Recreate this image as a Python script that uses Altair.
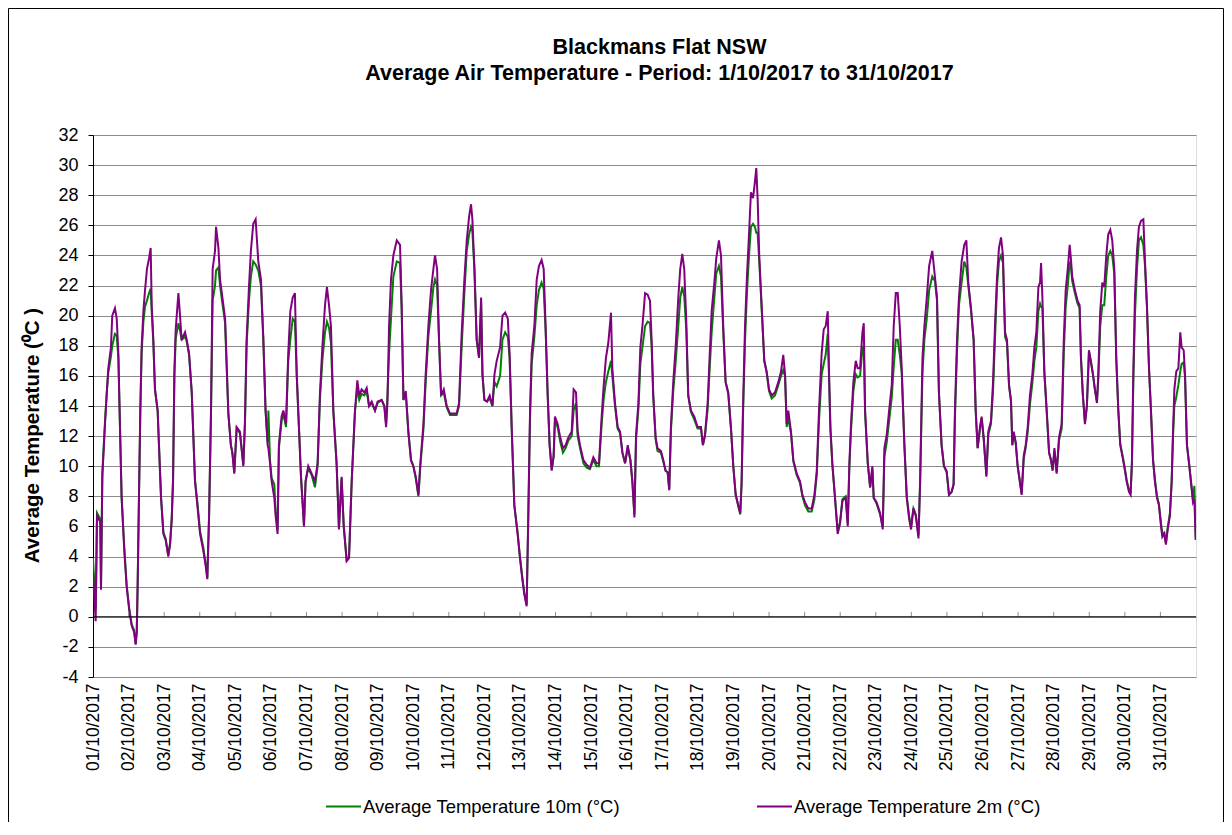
import json
import altair as alt
import pandas as pd

# hours since 01/10/2017 00:00, 2 m and 10 m air temperature (°C)
hours = [0, 1.8, 2.7, 4.9, 5.4, 6.3, 8.1, 9.2, 10.3, 12.1, 13.0, 14.8, 16.0, 17.1, 18.2, 19.3, 21.1, 22.7,
         24.5, 26.1, 27.7, 28.8, 29.5, 30.1, 31.0, 31.9, 32.8, 34.0, 35.1, 36.4, 37.8, 38.9, 39.6, 40.7, 41.8,
         43.6, 44.5, 45.9, 47.5, 49.0, 50.8, 52.0, 53.1, 54.0, 54.9, 55.8, 57.6, 58.7, 59.8, 62.1, 63.2, 64.8,
         66.6, 68.8, 70.6, 72.2, 74.4, 76.0, 77.1, 78.3, 79.6, 80.7, 82.3, 83.0, 84.6, 85.7, 87.3, 89.1, 91.3,
         93.0, 94.0, 95.3, 96.9, 99.1, 101.4, 102.5, 103.6, 105.2, 106.5, 108.1, 109.7, 111.5, 113.3, 114.9,
         116.4, 117.8, 118.3, 119.4, 120.5, 122.3, 123.2, 124.5, 125.4, 127.2, 128.4, 130.2, 131.7, 133.1,
         134.7, 136.2, 137.4, 138.9, 140.3, 142.3, 143.4, 145.2, 147.5, 149.7, 151.5, 153.1, 154.7, 156.5,
         157.8, 159.2, 160.5, 162.1, 164.3, 165.9, 167.7, 169.1, 171.1, 172.7, 174.5, 176.7, 178.3, 179.6,
         181.2, 183.0, 184.6, 186.2, 188.0, 190.2, 192.0, 194.7, 196.5, 197.7, 198.6, 199.7, 201.0, 202.6,
         204.9, 207.1, 208.2, 209.4, 211.0, 212.7, 214.5, 216.1, 217.7, 219.5, 220.8, 222.9, 224.4, 226.2,
         228.0, 229.6, 230.7, 232.1, 233.4, 234.8, 236.6, 238.6, 240.8, 243.1, 245.3, 246.9, 248.7, 250.5,
         252.1, 253.7, 255.0, 255.9, 257.3, 258.8, 260.4, 261.8, 262.7, 264.0, 265.8, 267.6, 269.4, 270.8,
         272.3, 274.6, 276.2, 278.0, 279.8, 281.0, 282.4, 284.2, 286.4, 288.0, 289.6, 290.9, 292.5, 293.6,
         294.8, 295.9, 297.7, 299.3, 300.8, 302.6, 304.0, 305.3, 306.7, 308.0, 309.4, 310.7, 311.6, 313.4,
         315.2, 317.0, 318.8, 320.6, 322.9, 324.2, 325.8, 326.9, 328.5, 330.8, 333.0, 335.2, 337.5, 339.7,
         341.3, 343.1, 344.5, 346.0, 347.6, 349.4, 350.3, 352.1, 353.9, 355.5, 357.1, 358.9, 360.7, 362.5,
         363.8, 365.2, 366.3, 367.9, 369.2, 370.6, 372.4, 374.1, 375.7, 376.8, 377.9, 379.5, 380.8, 383.1,
         384.7, 386.2, 387.6, 388.7, 389.8, 391.4, 393.0, 394.8, 396.1, 397.5, 398.8, 400.2, 401.5, 403.3,
         405.6, 407.8, 410.1, 411.4, 412.8, 414.6, 415.9, 417.3, 419.1, 420.4, 422.2, 423.6, 425.1, 426.7,
         428.5, 430.3, 431.9, 433.5, 435.3, 436.6, 437.5, 438.4, 439.8, 441.1, 442.5, 443.8, 445.2, 446.5,
         447.4, 448.3, 449.4, 451.0, 452.8, 454.4, 456.0, 457.8, 460.0, 462.3, 464.1, 465.6, 466.8, 467.9,
         469.0, 470.8, 472.4, 474.7, 476.9, 478.5, 480.3, 482.5, 484.8, 486.6, 488.2, 489.7, 491.5, 492.9,
         494.2, 495.6, 496.5, 497.4, 498.7, 500.5, 502.3, 503.9, 505.5, 507.7, 509.1, 510.2, 511.3, 512.9,
         514.5, 515.8, 517.4, 519.0, 519.9, 520.8, 522.6, 524.2, 525.7, 526.6, 528.6, 530.9, 532.7, 533.8,
         535.4, 537.0, 538.8, 540.1, 541.5, 542.8, 544.2, 545.5, 547.3, 548.9, 550.5, 551.8, 553.4, 555.0,
         556.8, 557.9, 559.5, 560.8, 562.4, 564.0, 566.1, 567.9, 569.3, 570.6, 572.4, 574.0, 575.8, 577.4,
         579.2, 580.5, 581.4, 582.8, 584.1, 585.9, 587.7, 589.1, 590.4, 592.2, 594.0, 595.4, 596.7, 598.3,
         599.4, 600.8, 602.6, 603.9, 605.7, 607.1, 608.4, 609.8, 611.1, 612.5, 613.8, 615.2, 616.5, 617.9,
         619.2, 620.1, 621.0, 622.4, 623.7, 625.1, 626.4, 627.8, 629.1, 630.5, 632.0, 633.6, 635.0, 636.3,
         637.7, 638.8, 639.5, 640.4, 641.7, 643.3, 644.9, 646.2, 647.3, 648.5, 650.0, 651.6, 653.4, 654.8,
         656.1, 657.5, 658.8, 659.6, 660.5, 662.3, 664.1, 665.5, 666.4, 667.7, 669.1, 670.4, 671.8, 673.1,
         674.5, 675.8, 677.2, 678.1, 679.4, 680.8, 682.1, 683.5, 684.8, 686.2, 687.5, 688.9, 690.2, 691.6,
         692.9, 694.3, 695.6, 697.2, 698.8, 699.9, 700.8, 701.7, 702.8, 704.2, 705.5, 706.9, 708.5, 709.6,
         710.9, 712.3, 713.6, 715.0, 716.3, 717.7, 719.0, 720.4, 721.3, 722.6, 723.7, 724.9, 726.4, 727.6,
         728.5, 729.4, 730.7, 732.1, 733.4, 734.3, 735.7, 736.6, 737.9, 739.3, 740.6, 742.0, 742.9, 743.8]

temp_2m = [3.0, -0.3, 6.7, 6.3, 1.8, 9.3, 12.8, 14.7, 16.5, 17.9, 20.0, 20.5, 19.8, 17.5, 12.6, 7.9, 4.4, 2.0,
           0.4, -0.6, -1.0, -1.85, -1.0, 2.0, 7.9, 13.7, 17.9, 20.3, 21.7, 23.1, 23.8, 24.5, 20.7, 18.4, 15.1,
           13.7, 11.4, 7.9, 5.5, 5.1, 4.0, 4.8, 6.5, 9.0, 16.3, 19.1, 21.5, 20.0, 18.4, 18.9, 18.4, 17.5,
           14.9, 9.0, 7.2, 5.5, 4.4, 3.4, 2.5, 6.7, 13.7, 23.1, 24.3, 25.9, 24.5, 22.4, 21.2, 19.8, 13.5,
           11.4, 10.9, 9.5, 12.6, 12.3, 10.0, 13.0, 18.4, 21.9, 24.3, 26.1, 26.4, 23.6, 22.4, 18.4,
           13.7, 11.4, 11.2, 10.2, 9.0, 7.9, 6.7, 5.5, 11.4, 13.3, 13.7, 12.8, 17.5, 20.3,
           21.2, 21.5, 16.1, 12.6, 9.3, 6.0, 9.0, 10.0, 9.5, 9.0, 10.2, 14.9, 17.9, 20.7,
           21.9, 20.7, 19.3, 13.7, 10.2, 5.8, 9.3, 6.0, 3.7, 3.9, 9.0, 13.7, 15.7, 14.7,
           15.1, 14.9, 15.2, 14.0, 14.3, 13.7, 14.3, 14.4, 14.0, 12.6, 14.2, 19.3, 22.4, 24.0,
           25.0, 24.7, 20.7, 14.4, 15.0, 12.3, 10.4, 10.0, 9.3, 8.1, 10.2, 12.8, 16.1, 19.3,
           21.7, 23.1, 24.0, 23.1, 18.4, 14.7, 15.1, 14.0, 13.5, 13.5, 13.5, 14.2, 18.9, 22.4,
           25.0, 26.6, 27.4, 26.4, 23.1, 18.4, 17.2, 21.2, 16.1, 14.4, 14.3, 14.7, 14.0, 16.1,
           17.0, 17.9, 20.0, 20.2, 19.8, 17.5, 12.6, 7.4, 5.5, 3.9, 2.5, 1.5, 0.7, 6.7,
           13.7, 17.5, 19.3, 22.4, 23.3, 23.7, 23.1, 19.3, 14.7, 11.4, 9.7, 10.7, 13.3, 12.8,
           11.9, 11.2, 11.4, 11.9, 12.3, 15.1, 14.9, 12.3, 11.4, 10.4, 10.1, 9.9, 10.6, 10.2,
           10.2, 13.3, 15.4, 17.2, 18.2, 20.2, 16.5, 14.2, 12.6, 12.3, 10.9, 10.2, 11.4, 10.4,
           9.0, 6.6, 12.1, 14.2, 17.9, 19.3, 21.5, 21.4, 21.0, 18.4, 14.7, 11.9, 11.2, 11.0,
           10.4, 9.7, 9.6, 8.4, 12.6, 15.6, 17.9, 21.2, 23.1, 24.1, 23.1, 19.6, 14.7, 13.7,
           13.3, 12.6, 12.6, 11.4, 12.1, 14.2, 17.2, 20.3, 22.2, 23.8, 25.0, 24.0, 19.3, 15.6,
           14.9, 12.6, 10.0, 8.1, 7.4, 6.9, 9.0, 13.7, 19.3, 22.6, 25.4, 28.2, 27.8, 28.9,
           29.8, 27.8, 24.0, 20.7, 17.0, 16.3, 15.1, 14.7, 14.9, 15.6, 16.3, 17.4, 16.1, 12.8,
           13.7, 12.3, 10.4, 9.5, 9.0, 8.1, 7.6, 7.2, 7.2, 8.1, 9.7, 13.7, 17.5, 19.1,
           19.3, 20.3, 16.1, 12.6, 10.2, 7.9, 5.5, 6.2, 7.7, 7.9, 6.0, 10.2, 12.8, 15.6,
           17.0, 16.5, 16.5, 18.9, 19.5, 13.7, 10.2, 8.6, 10.0, 7.9, 7.6, 6.9, 5.8, 11.2,
           12.1, 13.7, 15.4, 19.3, 21.5, 21.5, 19.3, 16.5, 11.4, 7.9, 6.5, 5.8, 7.2, 6.7,
           5.2, 9.0, 17.2, 19.3, 21.2, 23.3, 24.3, 22.6, 21.2, 14.9, 11.4, 10.0, 9.7, 8.1,
           8.3, 8.8, 13.7, 18.4, 21.2, 23.6, 24.7, 25.0, 22.2, 20.5, 18.4, 13.7, 11.2, 12.6,
           13.3, 11.9, 9.3, 12.3, 13.0, 15.6, 19.3, 22.6, 24.5, 25.2, 24.0, 18.9, 18.4, 15.4,
           14.4, 11.4, 12.3, 11.6, 10.0, 9.0, 8.1, 10.7, 11.4, 12.6, 14.7, 16.1, 17.9, 18.9,
           21.9, 22.2, 23.5, 21.2, 16.3, 13.7, 10.9, 10.4, 9.7, 11.2, 9.5, 11.9, 12.8, 18.4,
           21.7, 23.1, 24.7, 23.8, 22.6, 21.7, 21.0, 20.7, 17.2, 14.7, 12.8, 14.0, 17.7, 17.0,
           16.1, 15.1, 14.2, 16.1, 20.3, 22.2, 21.9, 24.0, 25.4, 25.7, 25.0, 23.1, 17.2, 13.7,
           11.4, 10.7, 10.0, 9.0, 8.3, 8.1, 10.4, 16.1, 21.2, 24.3, 25.9, 26.3, 26.4, 23.6,
           20.7, 16.5, 13.7, 10.4, 9.0, 7.9, 7.4, 6.0, 5.3, 5.5, 4.8, 5.8, 6.7, 9.0,
           12.3, 15.1, 16.3, 16.5, 18.9, 17.9, 17.7, 16.1, 11.4, 10.2, 9.0, 7.6, 7.8, 5.1]

temp_10m = [3.9, 0.5, 6.9, 6.5, 2.0, 9.6, 13.0, 14.8, 16.2, 17.3, 18.0, 18.8, 18.7, 17.2, 12.6, 8.0, 4.6, 2.1,
            0.5, -0.5, -0.9, -1.8, -1.0, 2.0, 7.9, 13.5, 17.5, 19.6, 20.6, 21.0, 21.5, 21.8, 20.3, 18.2, 15.1,
            13.7, 11.4, 7.9, 5.6, 5.2, 4.1, 4.9, 6.5, 9.2, 16.0, 18.5, 19.5, 19.0, 18.4, 18.6, 18.3, 17.4,
            14.9, 9.1, 7.4, 5.7, 4.6, 3.5, 2.6, 6.7, 13.5, 21.0, 22.0, 23.0, 23.2, 22.0, 20.8, 19.5, 13.5,
            11.4, 10.9, 9.6, 12.5, 12.2, 10.1, 12.8, 18.0, 21.0, 22.6, 23.6, 23.4, 23.0, 22.0, 18.4,
            13.7, 11.6, 13.7, 10.4, 9.2, 8.8, 7.0, 5.8, 11.2, 13.0, 13.5, 12.6, 17.0, 18.4,
            19.8, 19.6, 16.1, 12.6, 9.3, 6.1, 9.0, 9.9, 9.4, 8.6, 10.0, 14.5, 17.0, 18.9,
            19.6, 19.2, 18.2, 13.7, 10.2, 5.9, 9.2, 6.1, 3.8, 4.0, 9.0, 13.6, 15.2, 14.4,
            14.8, 14.7, 15.0, 14.0, 14.2, 13.7, 14.2, 14.4, 14.0, 12.8, 14.6, 17.5, 19.8, 22.6,
            23.6, 23.5, 20.4, 14.4, 14.8, 12.3, 10.4, 10.0, 9.2, 8.0, 10.0, 12.5, 15.6, 18.6,
            20.3, 21.9, 22.4, 22.0, 18.4, 14.7, 14.9, 13.9, 13.4, 13.4, 13.4, 14.0, 18.0, 21.5,
            24.3, 25.4, 25.9, 25.6, 23.0, 18.4, 17.2, 20.8, 16.1, 14.4, 14.3, 14.5, 14.0, 15.6,
            15.3, 16.0, 18.4, 18.9, 18.6, 17.2, 12.6, 7.4, 5.6, 4.0, 2.6, 1.6, 0.8, 6.5,
            13.2, 16.8, 18.6, 20.7, 21.7, 22.2, 21.8, 19.0, 14.7, 11.4, 9.8, 10.6, 13.0, 12.6,
            11.6, 10.9, 11.2, 11.7, 12.0, 13.7, 14.2, 12.0, 11.2, 10.2, 9.9, 9.8, 10.4, 10.0,
            10.0, 12.8, 14.5, 15.6, 16.3, 17.0, 16.0, 14.0, 12.5, 12.2, 10.9, 10.2, 11.2, 10.4,
            9.0, 6.8, 11.8, 13.8, 16.8, 17.9, 19.3, 19.6, 19.5, 18.0, 14.7, 11.8, 11.0, 10.9,
            10.3, 9.7, 9.6, 8.5, 12.3, 15.0, 16.9, 19.3, 21.2, 21.9, 21.3, 19.0, 14.7, 13.6,
            13.1, 12.5, 12.5, 11.4, 12.0, 13.8, 16.4, 18.9, 21.2, 22.8, 23.3, 22.6, 19.0, 15.6,
            14.8, 12.5, 10.0, 8.1, 7.3, 6.8, 8.8, 13.2, 18.3, 21.5, 24.0, 25.9, 26.1, 25.9,
            25.5, 25.5, 23.6, 20.5, 17.0, 16.2, 15.0, 14.5, 14.7, 15.4, 16.0, 16.4, 16.0, 12.6,
            13.2, 12.2, 10.3, 9.4, 8.9, 8.0, 7.4, 7.0, 7.0, 7.8, 9.4, 13.0, 16.1, 16.8,
            17.4, 18.8, 15.8, 12.4, 10.1, 7.9, 5.7, 6.3, 7.8, 8.0, 6.2, 10.0, 12.4, 15.0,
            16.1, 15.9, 16.0, 17.8, 18.0, 13.5, 10.2, 8.6, 9.8, 7.9, 7.5, 6.8, 6.0, 10.6,
            11.6, 13.0, 14.6, 16.6, 18.4, 18.4, 17.4, 16.2, 11.4, 8.0, 6.7, 6.0, 7.2, 6.8,
            5.4, 8.8, 16.2, 18.4, 19.8, 21.7, 22.6, 22.3, 21.0, 14.9, 11.4, 10.0, 9.6, 8.1,
            8.3, 8.8, 13.2, 17.6, 20.7, 22.2, 23.6, 23.2, 22.0, 20.4, 18.4, 13.7, 11.2, 12.5,
            13.2, 11.8, 9.4, 12.1, 12.8, 15.0, 18.4, 22.0, 23.6, 24.0, 23.5, 18.6, 18.2, 15.3,
            14.3, 11.4, 12.2, 11.5, 10.0, 9.1, 8.2, 10.5, 11.2, 12.3, 14.1, 15.5, 17.0, 17.9,
            20.3, 20.8, 20.6, 20.5, 16.2, 13.6, 10.9, 10.4, 9.8, 11.0, 9.6, 11.7, 12.5, 17.5,
            20.6, 22.0, 23.6, 23.3, 22.3, 21.5, 20.8, 20.5, 17.2, 14.7, 12.9, 14.0, 17.6, 16.9,
            16.1, 15.1, 14.3, 15.8, 19.3, 20.7, 20.7, 22.6, 24.0, 24.3, 24.0, 22.8, 17.2, 13.7,
            11.5, 10.8, 10.1, 9.1, 8.4, 8.3, 10.2, 15.5, 20.0, 23.1, 25.0, 25.2, 24.7, 23.3,
            20.6, 16.5, 13.8, 10.5, 9.1, 8.0, 7.5, 6.2, 5.5, 5.6, 4.9, 5.9, 6.9, 9.0,
            12.0, 14.0, 14.6, 15.4, 16.3, 16.8, 16.9, 15.9, 11.4, 10.2, 9.0, 7.7, 8.7, 5.2]

series_names = ["Average Temperature 10m (°C)", "Average Temperature 2m (°C)"]
series_colors = ["#008000", "#800080"]
day_labels = ["%02d/10/2017" % d for d in range(1, 32)]
day_hours = [24 * i for i in range(31)]
y_ticks = list(range(-4, 33, 2))

assert len(hours) == len(temp_2m) == len(temp_10m)

df = pd.DataFrame({"hour": hours, series_names[0]: temp_10m, series_names[1]: temp_2m})
long = df.melt(id_vars="hour", var_name="series", value_name="temp")

FONT = "Liberation Sans"
W, H = 1103, 542
PL, PT, PR, PB = 85, 127, 28, 145

label_expr = json.dumps(day_labels) + "[round(datum.value / 24)]"

x_scale = alt.Scale(domain=[0, 744], nice=False, zero=False)
y_scale = alt.Scale(domain=[-4, 32], nice=False, zero=False)

x_axis = alt.Axis(values=day_hours, tickCount=len(day_hours) + 2, labelExpr=label_expr, labelAngle=270,
                  labelAlign="right", labelBaseline="middle", labelPadding=6,
                  labelOverlap=False, labelBound=False, labelFlush=False,
                  ticks=False, domain=False, grid=False, title=None,
                  labelFont=FONT, labelFontSize=17.5, labelColor="black")
y_axis = alt.Axis(values=y_ticks, tickCount=len(y_ticks) + 2, title="Average Temperature (⁰C )",
                  labelExpr="'' + datum.value",
                  titleFont=FONT, titleFontSize=20.5, titleFontWeight="bold",
                  titleColor="black", titleAngle=270, titleAlign="center",
                  titleBaseline="middle", titleX=-61, titleY=300,
                  labelFont=FONT, labelFontSize=18, labelColor="black", labelPadding=10,
                  labelOverlap=False, labelFlush=False, labelBound=False,
                  tickSize=5, tickColor="black", domainColor="black",
                  grid=True, gridColor="#8c8c8c", gridWidth=1)

lines = alt.Chart(long).mark_line(strokeWidth=2, clip=True).encode(
    x=alt.X("hour:Q", scale=x_scale, axis=x_axis),
    y=alt.Y("temp:Q", scale=y_scale, axis=y_axis),
    color=alt.Color("series:N",
                    scale=alt.Scale(domain=series_names, range=series_colors),
                    legend=alt.Legend(title=None, orient="none", direction="horizontal", columns=2,
                                      legendX=232, legendY=653, symbolType="stroke",
                                      symbolStrokeWidth=2, symbolSize=1225, columnPadding=133,
                                      labelFont=FONT, labelFontSize=18.5, labelColor="black",
                                      labelOffset=1, labelLimit=400)),
    order=alt.Order("hour:Q"),
)

one = pd.DataFrame({"k": [0]})
zero_line = alt.Chart(one).mark_rule(color="black", strokeWidth=1).encode(
    y=alt.YDatum(0, scale=y_scale, axis=y_axis))
day_ticks = alt.Chart(pd.DataFrame({"hour": day_hours[1:]})).mark_rule(color="#909090").encode(
    x=alt.X("hour:Q", scale=x_scale, axis=x_axis),
    y=alt.YDatum(0, scale=y_scale, axis=y_axis), y2=alt.datum(0.33))

frame_left = alt.Chart(one).mark_rule(color="black").encode(
    x=alt.value(-PL + 0.5), y=alt.value(-PT + 0.5), y2=alt.value(H + PB))
frame_top = alt.Chart(one).mark_rule(color="black").encode(
    x=alt.value(-PL + 0.5), x2=alt.value(W + PR - 0.5), y=alt.value(-PT + 0.5))
frame_right = alt.Chart(one).mark_rule(color="black").encode(
    x=alt.value(W + PR - 0.5), y=alt.value(-PT + 0.5), y2=alt.value(H + PB))

chart = alt.layer(lines, day_ticks, zero_line, frame_left, frame_top, frame_right).properties(
    width=W, height=H,
    title=alt.TitleParams(
        text=["Blackmans Flat NSW", "Average Air Temperature - Period: 1/10/2017 to 31/10/2017"],
        font=FONT, fontSize=21.5, fontWeight="bold", color="black", anchor="middle",
        dx=15, offset=-76.5, lineHeight=26, frame="group"),
    autosize=alt.AutoSizeParams(type="none"),
    padding={"left": PL, "top": PT, "right": PR, "bottom": PB},
).configure_view(stroke="#808080", strokeWidth=1).configure(background="white")

chart.save("out.html", embed_options={"renderer": "svg", "actions": False})
